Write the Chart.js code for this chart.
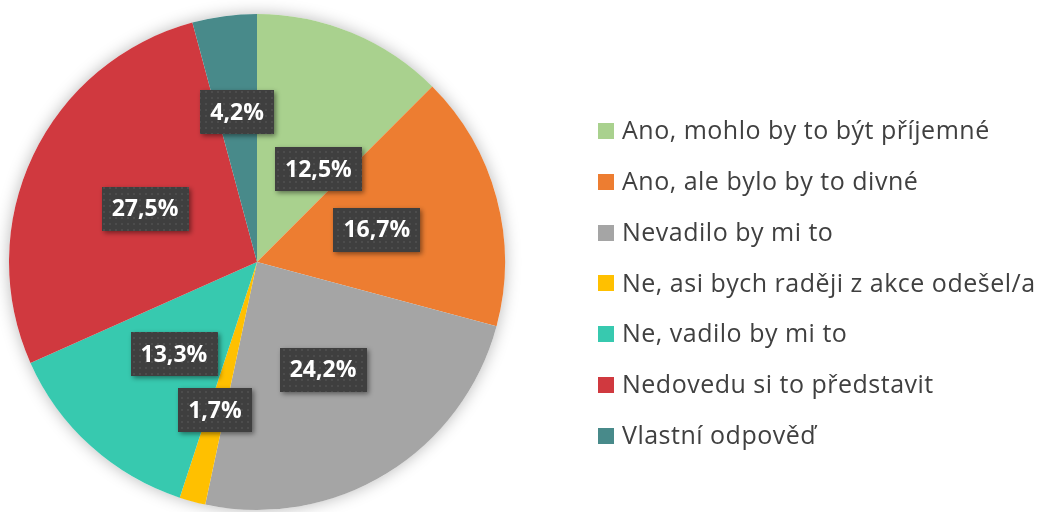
<!DOCTYPE html>
<html lang="cs">
<head>
<meta charset="utf-8">
<script src="https://cdn.jsdelivr.net/npm/chart.js@4"></script>
<style>
    html, body { margin: 0; padding: 0; background: #ffffff; }
    #wrap { width: 1041px; height: 512px; position: relative; }
</style>
</head>
<body>
<div id="wrap"><canvas id="pieChart"></canvas></div>
<script>
const categories = [
    'Ano, mohlo by to být příjemné',
    'Ano, ale bylo by to divné',
    'Nevadilo by mi to',
    'Ne, asi bych raději z akce odešel/a',
    'Ne, vadilo by mi to',
    'Nedovedu si to představit',
    'Vlastní odpověď'
];
const shares = [12.5, 16.7, 24.2, 1.7, 13.3, 27.5, 4.2];
const sliceColors = ['#A9D18E', '#ED7D31', '#A5A5A5', '#FFC000', '#37C9AF', '#D0393F', '#488A8A'];

// where each percentage box sits (fraction of radius, plus a nudge in px)
const labelRadius = [0.5, 0.5, 0.51, 0.62, 0.5, 0.5, 0.61];
const labelShift = [[14, 22], [0, 0], [0, 0], [-2, 0], [0, 0], [0, 0], [0, 0]];

function dotPattern(ctx) {
    const c = document.createElement('canvas');
    c.width = 6; c.height = 6;
    const p = c.getContext('2d');
    p.fillStyle = '#3f3f3f';
    p.fillRect(0, 0, 6, 6);
    p.fillStyle = 'rgba(255,255,255,0.07)';
    p.fillRect(1, 1, 2, 2);
    return ctx.createPattern(c, 'repeat');
}

const pieShadow = {
    id: 'pieShadow',
    beforeDatasetsDraw(chart) {
        const arc = chart.getDatasetMeta(0).data[0];
        if (!arc) return;
        const ctx = chart.ctx;
        ctx.save();
        ctx.shadowColor = 'rgba(0,0,0,0.28)';
        ctx.shadowBlur = 16;
        ctx.fillStyle = '#ffffff';
        ctx.beginPath();
        ctx.arc(arc.x, arc.y, arc.outerRadius, 0, Math.PI * 2);
        ctx.fill();
        ctx.restore();
    }
};

const valueBoxes = {
    id: 'valueBoxes',
    afterDatasetsDraw(chart) {
        const ctx = chart.ctx;
        const pattern = dotPattern(ctx);
        const meta = chart.getDatasetMeta(0);
        ctx.save();
        ctx.font = 'bold 23px "Open Sans", Lato, sans-serif';
        ctx.textAlign = 'center';
        ctx.textBaseline = 'middle';
        meta.data.forEach((arc, i) => {
            const mid = (arc.startAngle + arc.endAngle) / 2;
            const r = arc.outerRadius * labelRadius[i];
            const cx = arc.x + Math.cos(mid) * r + labelShift[i][0];
            const cy = arc.y + Math.sin(mid) * r + labelShift[i][1];
            const text = shares[i].toFixed(1).replace('.', ',') + '%';
            const w = ctx.measureText(text).width + 20;
            const h = 44;
            ctx.save();
            ctx.shadowColor = 'rgba(0,0,0,0.45)';
            ctx.shadowBlur = 5;
            ctx.shadowOffsetX = 2;
            ctx.shadowOffsetY = 2;
            ctx.fillStyle = pattern;
            ctx.fillRect(Math.round(cx - w / 2), Math.round(cy - h / 2), Math.round(w), h);
            ctx.restore();
            ctx.fillStyle = '#ffffff';
            ctx.fillText(text, cx, cy + 1);
        });
        ctx.restore();
    }
};

const sideLegend = {
    id: 'sideLegend',
    afterDraw(chart) {
        const ctx = chart.ctx;
        const colors = chart.data.datasets[0].backgroundColor;
        ctx.save();
        ctx.font = '25px "Open Sans", Lato, sans-serif';
        ctx.letterSpacing = '0.5px';
        ctx.textAlign = 'left';
        ctx.textBaseline = 'middle';
        chart.data.labels.forEach((label, i) => {
            const y = 131 + i * 50.8;
            ctx.fillStyle = colors[i];
            ctx.fillRect(598, Math.round(y - 8), 16, 16);
            ctx.fillStyle = '#404040';
            ctx.fillText(label, 622, y + 1);
        });
        ctx.restore();
    }
};

const ctx = document.getElementById('pieChart').getContext('2d');
new Chart(ctx, {
    type: 'pie',
    data: {
        labels: categories,
        datasets: [{
            data: shares,
            backgroundColor: sliceColors,
            borderWidth: 0
        }]
    },
    options: {
        responsive: true,
        maintainAspectRatio: false,
        animation: false,
        layout: { padding: { left: 0, right: 527, top: 14, bottom: 2 } },
        plugins: {
            legend: { display: false },
            tooltip: { enabled: false }
        }
    },
    plugins: [pieShadow, valueBoxes, sideLegend]
});
</script>
</body>
</html>
